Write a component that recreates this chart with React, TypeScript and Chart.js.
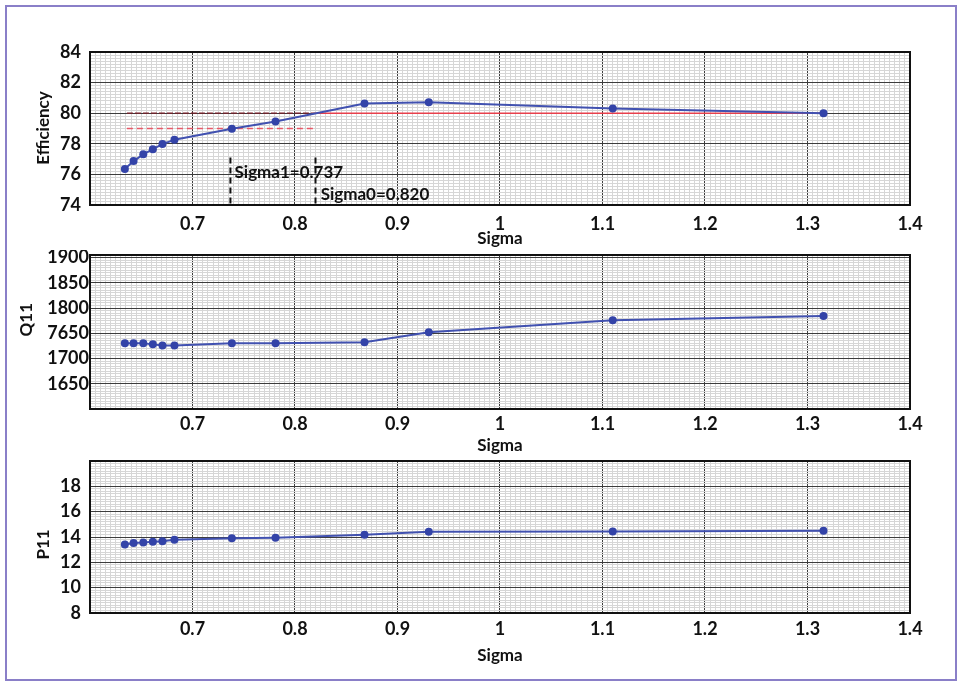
import React, { useEffect, useRef } from 'react';
import { Chart, registerables } from 'chart.js';

Chart.register(...registerables);

const FONT = 'Lato, "Open Sans", sans-serif';

// ---- data ----
const sigma = [0.634, 0.6425, 0.652, 0.6613, 0.6707, 0.6824, 0.7384, 0.781, 0.8678, 0.9305, 1.11, 1.3156];
const efficiency = [76.35, 76.87, 77.31, 77.65, 77.98, 78.26, 78.98, 79.46, 80.63, 80.72, 80.31, 80.0];
const q11 = [1730, 1730, 1730, 1728, 1726, 1726, 1730, 1730, 1732, 1752, 1776, 1784];
const p11 = [13.4, 13.53, 13.56, 13.63, 13.66, 13.79, 13.9, 13.95, 14.18, 14.41, 14.44, 14.49];

const sigma1 = 0.737;
const sigma0 = 0.82;
const effTarget = 80;
const effMarker = 79;
const markerStart = 0.636;
const dropTop = 77.1;

const xTicks = [0.7, 0.8, 0.9, 1.0, 1.1, 1.2, 1.3, 1.4];
const xTickText = ['0.7', '0.8', '0.9', '1', '1.1', '1.2', '1.3', '1.4'];
const effTicks = [74, 76, 78, 80, 82, 84];
const effTickText = ['74', '76', '78', '80', '82', '84'];
const q11Ticks = [1650, 1700, 1750, 1800, 1850, 1900];
const q11TickText = ['1650', '1700', '7650', '1800', '1850', '1900'];
const p11Ticks = [8, 10, 12, 14, 16, 18];
const p11TickText = ['8', '10', '12', '14', '16', '18'];

const BLUE_LINE = '#4151B0';
const BLUE_PT = '#3343A8';

const isMult = (v: number, step: number) => {
  const r = v / step;
  return Math.abs(r - Math.round(r)) < 1e-6;
};

const labelFor = (v: number, ticks: number[], text: string[]) => {
  const i = ticks.findIndex((t) => Math.abs(t - v) < 1e-6);
  return i >= 0 ? text[i] : '';
};

type Panel = {
  top: number;
  height: number;
  padTop: number;
  xAxisH: number;
  xTickPad: number;
  xTitlePad: number;
  yMin: number;
  yMax: number;
  yStep: number;
  yMajor: number;
  yTicks: number[];
  yTickText: string[];
  yTickPad: number;
  yTitle: string;
  yTitleX: number;
  yTitleY: number;
  datasets: any[];
  notes?: { text: string; x: number; y: number }[];
};

const mainSeries = (vals: number[]) => ({
  data: sigma.map((x, i) => ({ x, y: vals[i] })),
  borderColor: BLUE_LINE,
  backgroundColor: BLUE_PT,
  borderWidth: 2,
  pointRadius: 4,
  pointBackgroundColor: BLUE_PT,
  pointBorderColor: BLUE_PT,
  pointBorderWidth: 0,
  tension: 0,
});

const segment = (pts: { x: number; y: number }[], color: string, width: number, dash: number[]) => ({
  data: pts,
  borderColor: color,
  borderWidth: width,
  borderDash: dash,
  pointRadius: 0,
  tension: 0,
});

const panels: Panel[] = [
  {
    top: 0,
    height: 250,
    padTop: 52,
    xAxisH: 45,
    xTickPad: 8,
    xTitlePad: 1,
    yMin: 74,
    yMax: 84,
    yStep: 0.2,
    yMajor: 2,
    yTicks: effTicks,
    yTickText: effTickText,
    yTickPad: 9,
    yTitle: 'Efficiency',
    yTitleX: 44,
    yTitleY: 128,
    datasets: [
      mainSeries(efficiency),
      segment([{ x: sigma0, y: effTarget }, { x: sigma[sigma.length - 1], y: effTarget }], '#E8404C', 1.5, []),
      segment([{ x: markerStart, y: effTarget }, { x: sigma0, y: effTarget }], '#7A1E28', 1.3, [6, 2]),
      segment([{ x: markerStart, y: effMarker }, { x: sigma0, y: effMarker }], '#E85868', 1.5, [6, 4]),
      segment([{ x: sigma1, y: dropTop }, { x: sigma1, y: 74 }], '#111111', 2, [6, 4]),
      segment([{ x: sigma0, y: dropTop }, { x: sigma0, y: 74 }], '#111111', 2, [6, 4]),
    ],
    notes: [
      { text: `Sigma1=${sigma1.toFixed(3)}`, x: sigma1 + 0.004, y: 76.15 },
      { text: `Sigma0=${sigma0.toFixed(3)}`, x: sigma0 + 0.005, y: 74.7 },
    ],
  },
  {
    top: 250,
    height: 207,
    padTop: 5,
    xAxisH: 48,
    xTickPad: 4,
    xTitlePad: 1,
    yMin: 1600,
    yMax: 1905,
    yStep: 5,
    yMajor: 50,
    yTicks: q11Ticks,
    yTickText: q11TickText,
    yTickPad: 1,
    yTitle: 'Q11',
    yTitleX: 27,
    yTitleY: 69.7,
    datasets: [mainSeries(q11)],
  },
  {
    top: 457,
    height: 231,
    padTop: 2,
    xAxisH: 75,
    xTickPad: 5,
    xTitlePad: 22,
    yMin: 8,
    yMax: 20,
    yStep: 0.2,
    yMajor: 2,
    yTicks: p11Ticks,
    yTickText: p11TickText,
    yTickPad: 9,
    yTitle: 'P11',
    yTitleX: 43.3,
    yTitleY: 87.5,
    datasets: [mainSeries(p11)],
  },
];

const MAJOR = '#3c3c3c';
const MINOR = '#d6d6d6';

function buildChart(canvas: HTMLCanvasElement, p: Panel) {
  const areaBorder = {
    id: 'areaBorder',
    beforeDatasetsDraw(chart: any) {
      const { ctx, chartArea: a } = chart;
      ctx.save();
      ctx.strokeStyle = '#111';
      ctx.lineWidth = 2;
      ctx.strokeRect(a.left, a.top, a.right - a.left, a.bottom - a.top);
      ctx.restore();
    },
  };
  const yTitle = {
    id: 'yTitle',
    afterDraw(chart: any) {
      const ctx = chart.ctx;
      ctx.save();
      ctx.translate(p.yTitleX, p.yTitleY);
      ctx.rotate(-Math.PI / 2);
      ctx.font = `bold 17px ${FONT}`;
      ctx.fillStyle = '#111';
      ctx.textAlign = 'center';
      ctx.textBaseline = 'middle';
      ctx.fillText(p.yTitle, 0, 0);
      ctx.restore();
    },
  };
  const notes = {
    id: 'notes',
    afterDatasetsDraw(chart: any) {
      if (!p.notes) return;
      const ctx = chart.ctx;
      const xs = chart.scales.x;
      const ys = chart.scales.y;
      ctx.save();
      ctx.font = `bold 17px ${FONT}`;
      ctx.fillStyle = '#111';
      ctx.textAlign = 'left';
      ctx.textBaseline = 'middle';
      p.notes.forEach((n) => ctx.fillText(n.text, xs.getPixelForValue(n.x), ys.getPixelForValue(n.y)));
      ctx.restore();
    },
  };

  return new Chart(canvas, {
    type: 'line',
    data: { datasets: p.datasets },
    options: {
      animation: false,
      responsive: false,
      events: [],
      layout: { padding: { top: p.padTop, left: 0, right: 50, bottom: 0 } },
      plugins: { legend: { display: false }, tooltip: { enabled: false } },
      scales: {
        x: {
          type: 'linear',
          min: 0.6,
          max: 1.4,
          afterFit: (s: any) => {
            s.height = p.xAxisH;
            s.paddingLeft = 0;
            s.paddingRight = 0;
          },
          border: { display: false },
          grid: {
            drawTicks: false,
            lineWidth: 1,
            color: (c: any) => (isMult(c.tick.value, 0.1) ? MAJOR : MINOR),
          },
          ticks: {
            stepSize: 0.005,
            autoSkip: false,
            maxRotation: 0,
            minRotation: 0,
            padding: p.xTickPad,
            color: '#111',
            font: { family: FONT, size: 18, weight: 'bold' },
            callback: (v: any) => labelFor(Number(v), xTicks, xTickText),
          },
          title: {
            display: true,
            text: 'Sigma',
            color: '#111',
            font: { family: FONT, size: 17, weight: 'bold' },
            padding: { top: 0, bottom: p.xTitlePad },
          },
        },
        y: {
          type: 'linear',
          min: p.yMin,
          max: p.yMax,
          afterFit: (s: any) => {
            s.width = 90;
            s.paddingTop = 0;
            s.paddingBottom = 0;
          },
          border: { display: false },
          grid: {
            drawTicks: false,
            lineWidth: 1,
            color: (c: any) => (isMult(c.tick.value, p.yMajor) ? MAJOR : MINOR),
          },
          ticks: {
            stepSize: p.yStep,
            autoSkip: false,
            padding: p.yTickPad,
            color: '#111',
            font: { family: FONT, size: 18, weight: 'bold' },
            callback: (v: any) => labelFor(Number(v), p.yTicks, p.yTickText),
          },
        },
      },
    } as any,
    plugins: [areaBorder, notes, yTitle],
  });
}

export default function App() {
  const refs = [useRef<HTMLCanvasElement>(null), useRef<HTMLCanvasElement>(null), useRef<HTMLCanvasElement>(null)];

  useEffect(() => {
    const charts = panels.map((p, i) => buildChart(refs[i].current as HTMLCanvasElement, p));
    return () => charts.forEach((c) => c.destroy());
  }, []);

  return (
    <div style={{ position: 'absolute', left: 0, top: 0, width: 960, height: 688, background: '#fff', overflow: 'hidden' }}>
      <div
        style={{
          position: 'absolute',
          left: 5,
          top: 5,
          width: 952,
          height: 676,
          boxSizing: 'border-box',
          border: '2px solid #8A7FC8',
        }}
      />
      {panels.map((p, i) => (
        <canvas
          key={i}
          ref={refs[i]}
          width={960}
          height={p.height}
          style={{ position: 'absolute', left: 0, top: p.top, width: 960, height: p.height }}
        />
      ))}
    </div>
  );
}
